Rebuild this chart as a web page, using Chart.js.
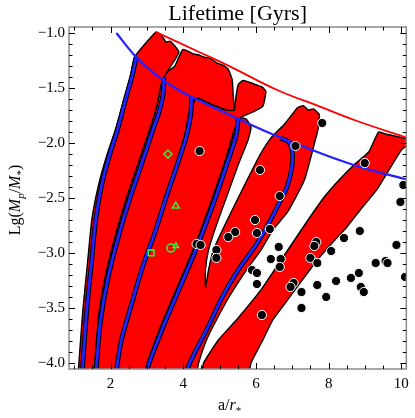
<!DOCTYPE html>
<html>
<head>
<meta charset="utf-8">
<script src="https://cdn.jsdelivr.net/npm/chart.js@4.4.0/dist/chart.umd.min.js"></script>
<style>
  html, body { margin: 0; padding: 0; background: #fff; }
</style>
</head>
<body>
<canvas id="lifetime" width="415" height="418"></canvas>
<script>
// Lifetime [Gyrs] – tidal lifetime bands in the (a/r*, Lg(Mp/M*)) plane

// axis ticks
const xTicks = [2, 4, 6, 8, 10];
const yTicks = [-1.0, -1.5, -2.0, -2.5, -3.0, -3.5, -4.0];

// red bands (closed outlines, x = a/r*, y = Lg(Mp/M*))
const bandA = [[1.11,-4.08],[1.129,-4.0],[1.238,-3.518],[1.374,-3.064],[1.483,-2.7],[1.67,-2.382],[1.9,-2.109],[2.13,-1.882],[2.36,-1.609],[2.55,-1.382],[2.66,-1.218],[3.252,-0.991],[3.415,-1.027],[3.524,-1.082],[3.633,-1.073],[3.769,-1.118],[3.878,-1.173],[3.769,-1.245],[3.551,-1.355],[3.388,-1.473],[3.279,-1.655],[3.116,-1.836],[2.789,-2.155],[2.463,-2.473],[2.136,-2.836],[1.864,-3.2],[1.673,-3.564],[1.565,-4.0],[1.54,-4.08]];
const bandB = [[1.54,-4.08],[1.565,-4.0],[1.673,-3.564],[1.864,-3.2],[2.136,-2.836],[2.463,-2.473],[2.789,-2.155],[3.116,-1.836],[3.279,-1.655],[3.388,-1.473],[3.551,-1.355],[3.769,-1.3],[3.986,-1.15],[4.286,-1.19],[4.422,-1.2],[4.585,-1.22],[4.748,-1.23],[4.912,-1.27],[5.075,-1.29],[5.238,-1.33],[5.347,-1.427],[5.374,-1.564],[5.401,-1.7],[5.184,-1.7],[4.83,-1.655],[4.367,-1.591],[4.177,-1.7],[4.068,-1.882],[3.878,-2.109],[3.551,-2.427],[3.224,-2.773],[2.898,-3.082],[2.599,-3.427],[2.327,-3.745],[2.163,-4.0],[2.14,-4.08]];
const bandC = [[2.14,-4.08],[2.163,-4.0],[2.327,-3.745],[2.599,-3.427],[2.898,-3.082],[3.224,-2.773],[3.551,-2.427],[3.878,-2.109],[4.068,-1.882],[4.177,-1.7],[4.367,-1.591],[4.83,-1.655],[5.184,-1.7],[5.401,-1.7],[5.456,-1.564],[5.51,-1.47],[5.646,-1.43],[5.837,-1.45],[6.0,-1.47],[6.163,-1.49],[6.272,-1.53],[6.19,-1.664],[5.918,-1.718],[5.565,-1.773],[5.401,-1.882],[5.184,-2.127],[4.857,-2.445],[4.503,-2.773],[4.231,-3.0],[3.823,-3.318],[3.415,-3.636],[3.007,-4.0],[2.97,-4.08]];
const bandD = [[2.97,-4.08],[3.007,-4.0],[3.415,-3.636],[3.823,-3.318],[4.231,-3.0],[4.503,-2.773],[4.857,-2.445],[5.184,-2.127],[5.401,-1.882],[5.565,-1.773],[5.728,-1.782],[5.864,-1.855],[5.782,-1.973],[5.51,-2.2],[5.211,-2.473],[4.912,-2.745],[4.694,-2.973],[4.612,-3.155],[4.612,-3.318],[4.694,-3.155],[4.83,-2.973],[5.184,-2.718],[5.646,-2.409],[6.109,-2.109],[6.408,-1.955],[6.789,-1.827],[7.143,-1.68],[7.306,-1.66],[7.442,-1.7],[7.578,-1.69],[7.741,-1.74],[7.714,-1.864],[7.633,-1.973],[7.333,-2.336],[6.871,-2.627],[6.463,-2.791],[6.136,-2.973],[5.701,-3.173],[5.293,-3.382],[4.912,-3.609],[4.639,-3.791],[4.422,-4.0],[4.38,-4.08]];
const bandE = [[4.52,-4.08],[4.558,-4.0],[4.966,-3.791],[5.51,-3.591],[6.136,-3.336],[6.599,-3.109],[7.061,-2.882],[7.469,-2.682],[7.878,-2.491],[8.286,-2.336],[8.694,-2.2],[9.102,-2.082],[9.374,-1.9],[9.592,-1.92],[9.864,-1.94],[10.136,-1.96],[10.25,-1.97],[10.25,-2.0],[10.0,-2.064],[9.32,-2.427],[8.912,-2.591],[8.503,-2.764],[8.095,-2.909],[7.687,-3.064],[7.279,-3.245],[6.871,-3.427],[6.463,-3.609],[6.19,-3.791],[5.864,-4.0],[5.82,-4.08]];

// blue contours inside the bands
const blue1 = [[2.707,-1.218],[2.599,-1.382],[2.408,-1.609],[2.19,-1.882],[1.973,-2.109],[1.755,-2.382],[1.592,-2.7],[1.483,-3.064],[1.347,-3.518],[1.238,-4.0],[1.22,-4.08]];
const blue2 = [[3.469,-1.409],[3.442,-1.564],[3.333,-1.718],[3.143,-1.9],[2.844,-2.2],[2.517,-2.518],[2.19,-2.882],[1.918,-3.245],[1.728,-3.609],[1.619,-4.0],[1.6,-4.08]];
const blue3 = [[4.231,-1.582],[4.204,-1.745],[4.095,-1.927],[3.878,-2.155],[3.551,-2.473],[3.197,-2.836],[2.898,-3.109],[2.571,-3.473],[2.299,-3.791],[2.19,-4.0],[2.16,-4.08]];
const blue4 = [[5.51,-1.782],[5.456,-1.927],[5.238,-2.155],[4.912,-2.473],[4.558,-2.791],[4.286,-3.018],[3.878,-3.336],[3.469,-3.655],[3.061,-4.0],[3.0,-4.08]];
const blue5 = [[6.68,-1.955],[6.925,-2.0],[7.007,-2.155],[6.871,-2.382],[6.68,-2.518],[6.327,-2.745],[6.0,-2.927],[5.51,-3.155],[5.102,-3.382],[4.639,-3.7],[4.177,-4.0],[4.1,-4.08]];

// envelope curves
const blueTop = [[2.16,-1.0],[2.71,-1.22],[3.25,-1.38],[3.88,-1.52],[4.61,-1.64],[5.51,-1.78],[6.68,-1.95],[8.69,-2.2],[10.14,-2.33]];
const redTop = [[3.25,-0.99],[4.42,-1.17],[5.32,-1.31],[6.6,-1.52],[7.69,-1.66],[8.78,-1.8],[10.14,-1.95]];

// known planets (black dots)
const planetX = [4.449,7.088,8.993,6.109,6.653,10.054,9.973,5.973,6.381,5.429,5.238,6.027,4.367,4.476,4.912,4.912,6.626,8.857,8.422,7.66,7.605,8.068,9.864,6.408,6.68,6.653,7.497,7.687,9.293,9.565,9.619,10.1,5.891,6.027,6.027,7.034,6.952,7.252,7.687,8.204,8.612,8.83,8.884,8.966,7.932,7.252,6.163,7.823];
const planetY = [-2.073,-2.027,-2.182,-2.245,-2.482,-2.382,-2.536,-2.7,-2.782,-2.809,-2.855,-2.818,-2.918,-2.927,-2.973,-3.045,-2.945,-2.8,-2.864,-2.9,-2.936,-2.982,-2.927,-3.055,-3.055,-3.127,-3.045,-3.091,-3.091,-3.073,-3.091,-3.218,-3.155,-3.182,-3.282,-3.273,-3.309,-3.355,-3.291,-3.255,-3.227,-3.182,-3.309,-3.355,-3.4,-3.5,-3.564,-1.818];

// solar-system-like markers (green, open)
const greenX = [3.578, 3.796, 3.116, 3.66, 3.796];
const greenY = [-2.10, -2.573, -3.0, -2.955, -2.936];
const greenStyle = ['rectRot', 'triangle', 'rect', 'circle', 'triangle'];

const pts = arr => arr.map(([x, y]) => ({ x, y }));

const bandSet = data => ({
  data: pts(data), fill: 'shape', backgroundColor: '#ff0000',
  borderColor: '#000', borderWidth: 1.4, tension: 0.15, pointRadius: 0, order: 10
});
const blueSets = lines => lines.flatMap(l => [
  { data: pts(l), borderColor: '#2222ff', borderWidth: 2.8, tension: 0.35, pointRadius: 0, fill: false, order: 3 },
  { data: pts(l), borderColor: '#000', borderWidth: 4.8, tension: 0.35, pointRadius: 0, fill: false, order: 4 }
]);

const frameTicks = {
  id: 'frameTicks',
  afterDatasetsDraw(chart) {
    const { ctx, chartArea: a, scales: { x, y } } = chart;
    ctx.save();
    ctx.strokeStyle = '#8c8c8c';
    ctx.lineWidth = 1.5;
    ctx.strokeRect(a.left, a.top, a.right - a.left, a.bottom - a.top);
    ctx.strokeStyle = '#000';
    ctx.lineWidth = 1;
    const xt = [];
    for (let v = 1; v <= 10.01; v += 0.5) xt.push(v);
    const yt = [];
    for (let k = 10; k <= 40; k++) yt.push(-k / 10);
    xt.forEach(v => {
      const px = Math.round(x.getPixelForValue(v)) + 0.5;
      const len = xTicks.includes(v) ? 6 : 3.5;
      ctx.beginPath();
      ctx.moveTo(px, a.bottom); ctx.lineTo(px, a.bottom - len);
      ctx.moveTo(px, a.top); ctx.lineTo(px, a.top + len);
      ctx.stroke();
    });
    yt.forEach(v => {
      const py = Math.round(y.getPixelForValue(v)) + 0.5;
      const major = yTicks.some(t => Math.abs(t - v) < 1e-6);
      const len = major ? 6 : 3.5;
      ctx.beginPath();
      ctx.moveTo(a.left, py); ctx.lineTo(a.left + len, py);
      ctx.moveTo(a.right, py); ctx.lineTo(a.right - len, py);
      ctx.stroke();
    });
    ctx.restore();
  }
};

// axis titles with subscripts
const axisTitles = {
  id: 'axisTitles',
  afterDraw(chart) {
    const { ctx, chartArea: a } = chart;
    const runs = (parts, x0, y0) => {
      let x = x0;
      parts.forEach(([t, style, sub]) => {
        ctx.font = `${style} ${sub ? 11 : 16}px "Liberation Serif"`;
        ctx.fillText(t, x, y0 + (sub ? 4 : 0));
        x += ctx.measureText(t).width;
      });
      return x - x0;
    };
    const measure = parts => parts.reduce((w, [t, style, sub]) => {
      ctx.font = `${style} ${sub ? 11 : 16}px "Liberation Serif"`;
      return w + ctx.measureText(t).width;
    }, 0);
    ctx.save();
    ctx.fillStyle = '#000';
    ctx.textBaseline = 'alphabetic';
    const xl = [['a/', 'normal', false], ['r', 'italic', false], ['*', 'normal', true]];
    runs(xl, (a.left + a.right) / 2 - measure(xl) / 2 - 8, 410);
    const yl = [['Lg(', 'normal', false], ['M', 'italic', false], ['p', 'italic', true], ['/', 'normal', false], ['M', 'italic', false], ['*', 'normal', true], [')', 'normal', false]];
    ctx.translate(20, 200);
    ctx.rotate(-Math.PI / 2);
    runs(yl, -measure(yl) / 2, 0);
    ctx.restore();
  }
};

new Chart(document.getElementById('lifetime'), {
  type: 'line',
  data: {
    datasets: [
      { data: planetX.map((x, i) => ({ x, y: planetY[i] })), showLine: false, pointRadius: 4.6,
        pointBackgroundColor: '#000', pointBorderColor: '#fff', pointBorderWidth: 1, order: 1 },
      ...greenX.map((x, i) => ({ data: [{ x, y: greenY[i] }], showLine: false, pointStyle: greenStyle[i],
        pointRadius: i === 4 ? 3 : 4, pointBackgroundColor: 'rgba(0,0,0,0)', pointBorderColor: '#33ee33',
        pointBorderWidth: 1.6, order: 0 })),
      { data: pts(blueTop), borderColor: '#2222ff', borderWidth: 2.2, tension: 0.4, pointRadius: 0, fill: false, order: 2 },
      { data: pts(redTop), borderColor: '#ff0000', borderWidth: 1.8, tension: 0.4, pointRadius: 0, fill: false, order: 2 },
      ...blueSets([blue1, blue2, blue3, blue4, blue5]),
      bandSet(bandA), bandSet(bandB), bandSet(bandC), bandSet(bandD), bandSet(bandE)
    ]
  },
  options: {
    responsive: false,
    animation: false,
    events: [],
    layout: { padding: { left: 0, right: 5, top: 0, bottom: 0 } },
    plugins: {
      legend: { display: false },
      tooltip: { enabled: false },
      title: {
        display: true, text: 'Lifetime [Gyrs]', fullSize: false, color: '#000',
        font: { family: 'Liberation Serif', size: 22, weight: 'normal', lineHeight: 1.2 },
        padding: { top: 0.6, bottom: 0 }
      }
    },
    scales: {
      x: {
        type: 'linear', min: 0.857, max: 10.136,
        grid: { display: false, drawTicks: false }, border: { display: false },
        afterBuildTicks: s => { s.ticks = xTicks.map(v => ({ value: v })); },
        afterFit: s => { s.height = 49; },
        ticks: { color: '#000', padding: 6, maxRotation: 0, font: { family: 'Liberation Serif', size: 15 },
          callback: v => String(v) }
      },
      y: {
        type: 'linear', min: -4.055, max: -0.945,
        grid: { display: false, drawTicks: false }, border: { display: false },
        afterBuildTicks: s => { s.ticks = yTicks.map(v => ({ value: v })); },
        afterFit: s => { s.width = 69; },
        ticks: { color: '#000', padding: 4, font: { family: 'Liberation Serif', size: 15 },
          callback: v => '\u2212' + Math.abs(v).toFixed(1) }
      }
    }
  },
  plugins: [frameTicks, axisTitles]
});
</script>
</body>
</html>
